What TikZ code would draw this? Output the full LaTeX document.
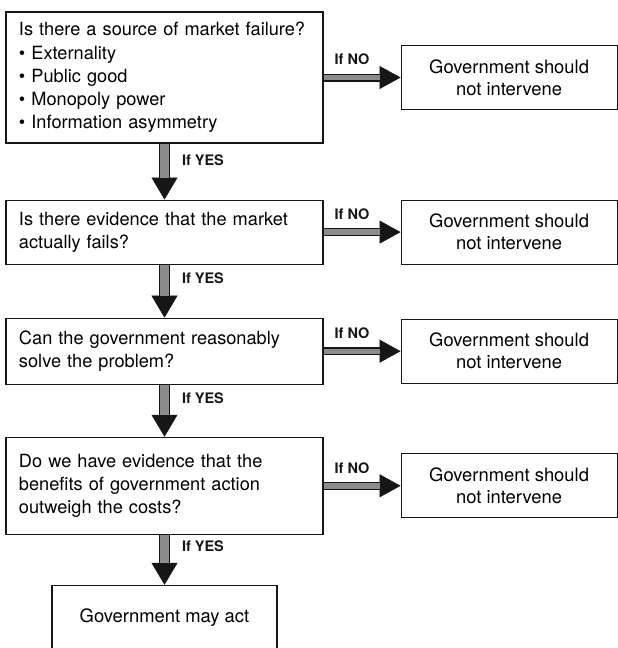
\documentclass[tikz,border=0pt]{standalone}
\usepackage{fontspec}
\setmainfont{TeX Gyre Heros}
\usetikzlibrary{arrows.meta,positioning}
\hyphenpenalty=10000
\definecolor{mfink}{HTML}{161616}
\definecolor{mfgrey}{HTML}{8C8C8C}
\tikzset{
  qbox/.style={draw=mfink,line width=1.1pt,align=left,text width=291pt,
               minimum width=317pt,inner xsep=13pt,inner ysep=6pt,
               font=\fontsize{18.2}{23.2}\selectfont},
  rbox/.style={draw=mfink,line width=1.1pt,align=center,minimum width=216pt,
               minimum height=64pt,font=\fontsize{18.4}{22}\selectfont},
  abox/.style={draw=mfink,line width=1.1pt,align=center,minimum width=225pt,
               minimum height=64pt,font=\fontsize{18.4}{22}\selectfont},
  vfat/.style={draw=mfink,line width=11pt,
               -{Triangle[length=22pt,width=26pt,line width=0.6pt,fill=mfink]},
               postaction={draw=mfgrey,line width=8.2pt,-,shorten >=22pt}},
  hfat/.style={draw=mfink,line width=8pt,
               -{Triangle[length=21pt,width=23pt,line width=0.6pt,fill=mfink]},
               postaction={draw=mfgrey,line width=5.4pt,-,shorten >=21pt}},
  lab/.style={font=\fontsize{14.5}{16}\selectfont\bfseries,text=mfink,inner sep=1pt},
}
\begin{document}
\begin{tikzpicture}[x=1pt,y=-1pt]
  \useasboundingbox (0,0) rectangle (618,648);
  % questions, left column
  \node[qbox,minimum height=131pt] (fail) at (164.5,77.5)
    {Is there a source of market failure?\\
     \textbullet\ Externality\\
     \textbullet\ Public good\\
     \textbullet\ Monopoly power\\
     \textbullet\ Information asymmetry};
  \node[qbox,minimum height=64pt,below=56pt of fail] (evid)
    {Is there evidence that the market\\actually fails?};
  \node[qbox,minimum height=66pt,below=53pt of evid] (solve)
    {Can the government reasonably\\solve the problem?};
  \node[qbox,minimum height=97pt,below=52pt of solve] (cost)
    {Do we have evidence that the\\benefits of government action\\outweigh the costs?};
  \node[abox,below=50pt of cost] (act) {Government may act};
  % answers, right column
  \node[rbox,right=77pt of fail] (no1) {Government should\\not intervene};
  \node[rbox,right=77pt of evid] (no2) {Government should\\not intervene};
  \node[rbox,right=77pt of solve] (no3) {Government should\\not intervene};
  \node[rbox,right=77pt of cost] (no4) {Government should\\not intervene};
  % yes arrows
  \draw[vfat](fail)--node[lab,right=11pt,pos=0.3]{If YES}(evid);
  \draw[vfat](evid)--node[lab,right=11pt,pos=0.25]{If YES}(solve);
  \draw[vfat](solve)--node[lab,right=11pt,pos=0.25]{If YES}(cost);
  \draw[vfat](cost)--node[lab,right=11pt,pos=0.22]{If YES}(act);
  % no arrows
  \draw[hfat](fail)--node[lab,above=7.5pt,pos=0.37]{If NO}(no1);
  \draw[hfat](evid)--node[lab,above=7.5pt,pos=0.37]{If NO}(no2);
  \draw[hfat](solve)--node[lab,above=7.5pt,pos=0.37]{If NO}(no3);
  \draw[hfat](cost)--node[lab,above=7.5pt,pos=0.37]{If NO}(no4);
\end{tikzpicture}
\end{document}
